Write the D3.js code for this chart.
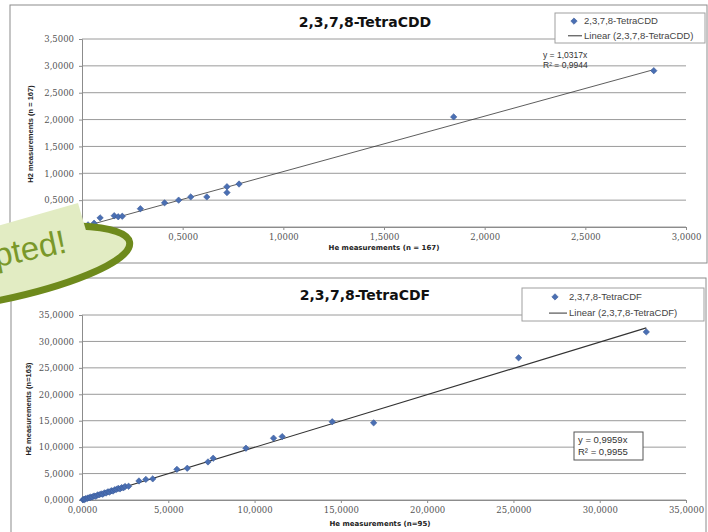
<!DOCTYPE html>
<html>
<head>
<meta charset="utf-8">
<script src="https://cdn.jsdelivr.net/npm/d3@7"></script>
<style>
  body { margin: 0; background: #fff; }
  svg { display: block; font-family: "Liberation Sans", Arial, sans-serif; }
</style>
</head>
<body>
<div id="graf"></div>
<script>
// -- Datos --
// 2,3,7,8-TetraCDD (He vs H2)
cddHe = [0.03, 0.06, 0.09, 0.16, 0.18, 0.20, 0.29, 0.41, 0.48, 0.54, 0.62, 0.72, 0.72, 0.78, 1.846, 2.84]
cddH2 = [0.04, 0.07, 0.17, 0.21, 0.19, 0.20, 0.34, 0.45, 0.50, 0.56, 0.56, 0.75, 0.64, 0.80, 2.05, 2.91]
cddSlope = 1.0317
cddR2 = 0.9944

// 2,3,7,8-TetraCDF (He vs H2)
cdfHe = [0.05, 0.10, 0.15, 0.20, 0.30, 0.35, 0.45, 0.50, 0.60, 0.70, 0.80, 0.90, 1.00, 1.10, 1.20, 1.30, 1.40, 1.50,
         1.60, 1.70, 1.80, 1.90, 2.00, 2.10, 2.20, 2.30, 2.40, 2.50, 2.70, 3.3, 3.7, 4.1, 5.5, 6.1, 7.3, 7.6, 9.5,
         11.1, 11.6, 14.5, 16.9, 25.3, 32.7]
cdfH2 = [0.04, 0.12, 0.10, 0.25, 0.28, 0.40, 0.42, 0.55, 0.58, 0.75, 0.72, 0.95, 0.98, 1.15, 1.10, 1.35, 1.32, 1.55,
         1.50, 1.75, 1.70, 1.95, 2.00, 2.20, 2.10, 2.35, 2.30, 2.55, 2.60, 3.6, 3.9, 4.0, 5.8, 6.0, 7.2, 7.9, 9.8,
         11.7, 12.0, 14.8, 14.6, 26.9, 31.8]
cdfSlope = 0.9959
cdfR2 = 0.9955

cddXTicks = [0, 0.5, 1, 1.5, 2, 2.5, 3]
cddYTicks = [0, 0.5, 1, 1.5, 2, 2.5, 3, 3.5]
cdfXTicks = [0, 5, 10, 15, 20, 25, 30, 35]
cdfYTicks = [0, 5, 10, 15, 20, 25, 30, 35]

// Formato con coma decimal
fmt = d3.formatLocale({decimal: ',', thousands: '.', grouping: [3], currency: ['', '']}).format('.4f')

svg = d3.select('#graf').append('svg')
        .attr('width', 708)
        .attr('height', 532)

// Dibuja un gráfico de dispersión estilo Excel
function chart(cfg) {
    g = svg.append('g')

    // marco
    g.append('rect')
     .attr('x', cfg.frame[0]).attr('y', cfg.frame[1])
     .attr('width', cfg.frame[2]).attr('height', cfg.frame[3])
     .attr('fill', '#fff').attr('stroke', '#8c8c8c')

    x = d3.scaleLinear().domain(cfg.xDom).range(cfg.xRange)
    y = d3.scaleLinear().domain(cfg.yDom).range(cfg.yRange)

    // rejilla
    g.selectAll('.grid')
     .data(cfg.yTicks)
     .enter().append('line')
     .attr('x1', x(cfg.xDom[0])).attr('x2', x(cfg.xDom[1]))
     .attr('y1', d => y(d)).attr('y2', d => y(d))
     .attr('stroke', '#9a9a9a').attr('stroke-width', 1)

    yAx = g.append('g')
           .attr('transform', `translate(${x(cfg.xDom[0])}, 0)`)
           .call(d3.axisLeft(y).tickValues(cfg.yTicks).tickFormat(fmt).tickSize(3).tickPadding(5))
    xAx = g.append('g')
           .attr('transform', `translate(0, ${y(cfg.yDom[0])})`)
           .call(d3.axisBottom(x).tickValues(cfg.xTicks).tickFormat(fmt).tickSize(3).tickPadding(4))
    ;[yAx, xAx].forEach(a => {
        a.select('.domain').attr('stroke', '#8c8c8c')
        a.selectAll('.tick line').attr('stroke', '#8c8c8c')
        a.selectAll('.tick text').attr('fill', '#555').style('font-size', '8.5px')
         .style('font-family', '"DejaVu Serif", serif')
    })

    // línea de tendencia
    maxX = d3.max(cfg.xs)
    g.append('line')
     .attr('x1', x(0)).attr('y1', y(0))
     .attr('x2', x(maxX)).attr('y2', y(cfg.slope * maxX))
     .attr('stroke', '#333').attr('stroke-width', cfg.trendW)

    // puntos
    diamond = d3.symbol().type(d3.symbolDiamond2).size(26)
    g.selectAll('.pt')
     .data(cfg.xs.map((d, i) => [d, cfg.ys[i]]))
     .enter().append('path')
     .attr('d', diamond)
     .attr('transform', d => `translate(${x(d[0])}, ${y(d[1])})`)
     .attr('fill', '#4a6fb3').attr('stroke', '#3b5b98').attr('stroke-width', 0.6)

    // títulos
    g.append('text')
     .attr('x', 365).attr('y', cfg.titleY)
     .attr('text-anchor', 'middle')
     .style('font-family', '"DejaVu Sans", sans-serif')
     .style('font-size', '14px').style('font-weight', 'bold').attr('fill', '#111')
     .text(cfg.title)
    g.append('text')
     .attr('x', cfg.xTitlePos[0]).attr('y', cfg.xTitlePos[1])
     .attr('text-anchor', 'middle')
     .style('font-family', '"DejaVu Sans", sans-serif')
     .style('font-size', '7px').style('font-weight', 'bold').attr('fill', '#222')
     .text(cfg.xTitle)
    g.append('text')
     .attr('transform', `translate(${cfg.yTitlePos[0]}, ${cfg.yTitlePos[1]}) rotate(-90)`)
     .attr('text-anchor', 'middle')
     .style('font-size', '7.5px').style('font-weight', 'bold').attr('fill', '#222')
     .text(cfg.yTitle)

    // leyenda
    L = cfg.legend
    g.append('rect')
     .attr('x', L.x).attr('y', L.y).attr('width', L.w).attr('height', L.h)
     .attr('fill', '#fff').attr('stroke', '#a0a0a0')
    g.append('path')
     .attr('d', diamond)
     .attr('transform', `translate(${L.mx}, ${L.y + L.h * 0.27})`)
     .attr('fill', '#4a6fb3').attr('stroke', '#3b5b98').attr('stroke-width', 0.6)
    g.append('line')
     .attr('x1', L.mx - 6).attr('x2', L.tx - 2)
     .attr('y1', L.y + L.h * 0.76).attr('y2', L.y + L.h * 0.76)
     .attr('stroke', '#333').attr('stroke-width', 1)
    g.selectAll('.leg')
     .data(cfg.legendLabels)
     .enter().append('text')
     .attr('x', L.tx)
     .attr('y', (d, i) => L.y + L.h * (i ? 0.76 : 0.27) + 3)
     .style('font-size', L.fs).attr('fill', '#444')
     .text(d => d)

    // ecuación
    E = cfg.eq
    if (E.box) {
        g.append('rect')
         .attr('x', E.box[0]).attr('y', E.box[1]).attr('width', E.box[2]).attr('height', E.box[3])
         .attr('fill', '#fff').attr('stroke', '#555')
    }
    g.selectAll('.eq')
     .data([`y = ${d3.format('.4f')(cfg.slope).replace('.', ',')}x`,
            `R² = ${d3.format('.4f')(cfg.r2).replace('.', ',')}`])
     .enter().append('text')
     .attr('x', E.x).attr('y', (d, i) => E.y + i * E.dy)
     .style('font-size', E.fs).attr('fill', '#333')
     .text(d => d)
}

chart({
    frame: [10, 5, 697, 258],
    xDom: [0, 3], xRange: [82, 686],
    yDom: [0, 3.5], yRange: [227, 39],
    xTicks: cddXTicks, yTicks: cddYTicks,
    xs: cddHe, ys: cddH2, slope: cddSlope, r2: cddR2, trendW: 0.8,
    title: '2,3,7,8-TetraCDD', titleY: 27,
    xTitle: 'He measurements (n = 167)', xTitlePos: [384, 250],
    yTitle: 'H2 measurements (n = 167)', yTitlePos: [33, 134],
    legend: {x: 555, y: 13, w: 150, h: 30, mx: 574, tx: 584, fs: '9.5px'},
    legendLabels: ['2,3,7,8-TetraCDD', 'Linear (2,3,7,8-TetraCDD)'],
    eq: {x: 543, y: 58, dy: 10, fs: '8.5px'}
})

chart({
    frame: [11, 278, 695, 262],
    xDom: [0, 35], xRange: [82, 686],
    yDom: [0, 35], yRange: [500, 315],
    xTicks: cdfXTicks, yTicks: cdfYTicks,
    xs: cdfHe, ys: cdfH2, slope: cdfSlope, r2: cdfR2, trendW: 1.1,
    title: '2,3,7,8-TetraCDF', titleY: 300,
    xTitle: 'He measurements (n=95)', xTitlePos: [380, 526],
    yTitle: 'H2 measurements (n=163)', yTitlePos: [31, 409],
    legend: {x: 522, y: 288, w: 182, h: 33, mx: 555, tx: 569, fs: '9.5px'},
    legendLabels: ['2,3,7,8-TetraCDF', 'Linear (2,3,7,8-TetraCDF)'],
    eq: {x: 578, y: 443, dy: 12, fs: '9.5px', box: [574, 432, 69, 28]}
})

// -- Globo "Adopted!" --
bubble = svg.append('g')
bubble.append('ellipse')
      .attr('transform', 'translate(-28, 270) rotate(-10)')
      .attr('rx', 160).attr('ry', 35)
      .attr('fill', '#e2ecc3').attr('stroke', '#6e8a1c').attr('stroke-width', 7)
bubble.append('path')
      .attr('d', 'M78,203 L-114,258 L-100,306 L92,251 Z')
      .attr('fill', '#e2ecc3')
bubble.append('text')
      .attr('transform', 'translate(68, 252) rotate(-12)')
      .attr('text-anchor', 'end')
      .style('font-size', '33px').attr('fill', '#7a982a')
      .text('Adopted!')
</script>
</body>
</html>
